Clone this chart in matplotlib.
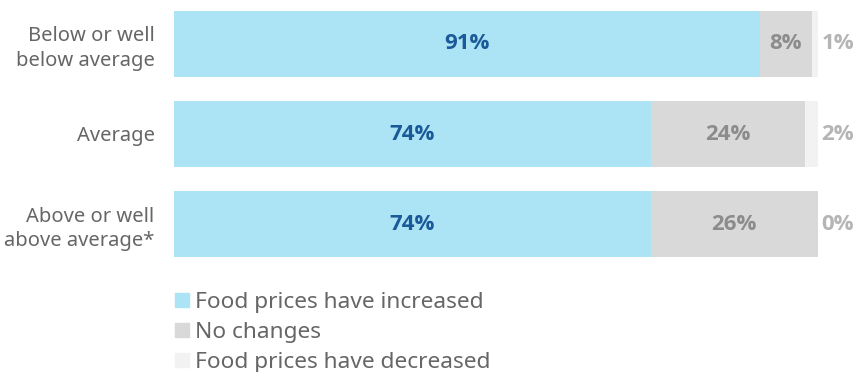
import numpy as np
import matplotlib.pyplot as plt
from matplotlib.patches import Patch

plt.rcParams['font.family'] = ['Noto Sans', 'DejaVu Sans']

categories = ["Below or well\nbelow average", "Average", "Above or well\nabove average*"]
increased = [91, 74, 74]
no_change = [8, 24, 26]
decreased = [1, 2, 0]
series_names = ["Food prices have increased", "No changes", "Food prices have decreased"]

colors = ["#ade4f5", "#d9d9d9", "#f2f2f2"]
bold = dict(family=['Open Sans', 'DejaVu Sans'], fontweight='bold', fontsize=16)

fig = plt.figure(figsize=(8.59, 3.72), dpi=100)
ax = fig.add_axes([174/859, 1 - 257/372, (818 - 174)/859, 246/372])

y = np.arange(len(categories))
h = 0.733
inc = np.array(increased)
noc = np.array(no_change)
dec = np.array(decreased)

ax.barh(y, inc, height=h, color=colors[0])
ax.barh(y, noc, left=inc, height=h, color=colors[1])
ax.barh(y, dec, left=inc + noc, height=h, color=colors[2])

for i in range(len(categories)):
    ax.text(inc[i] / 2, y[i], f"{inc[i]}%", ha='center', va='center',
            color='#1b5a98', **bold)
    ax.text(inc[i] + noc[i] / 2, y[i], f"{noc[i]}%", ha='center', va='center',
            color='#8c8c8c', **bold)
    ax.text(103.1, y[i], f"{dec[i]}%", ha='center', va='center',
            color='#b5b5b5', clip_on=False, **bold)

ax.set_xlim(0, 100)
ax.set_ylim(y[-1] + h / 2, y[0] - h / 2)
ax.set_yticks(y)
ax.set_yticklabels(categories, fontsize=14.5, color='#666666', linespacing=1.28)
ax.tick_params(axis='y', length=0, pad=14)
ax.set_xticks([])
for s in ax.spines.values():
    s.set_visible(False)

handles = [Patch(color=c) for c in colors]
fig.legend(handles, series_names, loc='upper left',
           bbox_to_anchor=(166/859, 1 - 283/372), frameon=False,
           fontsize=16.3, labelcolor='#666666', handlelength=0.6, handleheight=0.6,
           handletextpad=0.3, labelspacing=0.39, borderaxespad=0)

fig.savefig("out.png", dpi=100)
